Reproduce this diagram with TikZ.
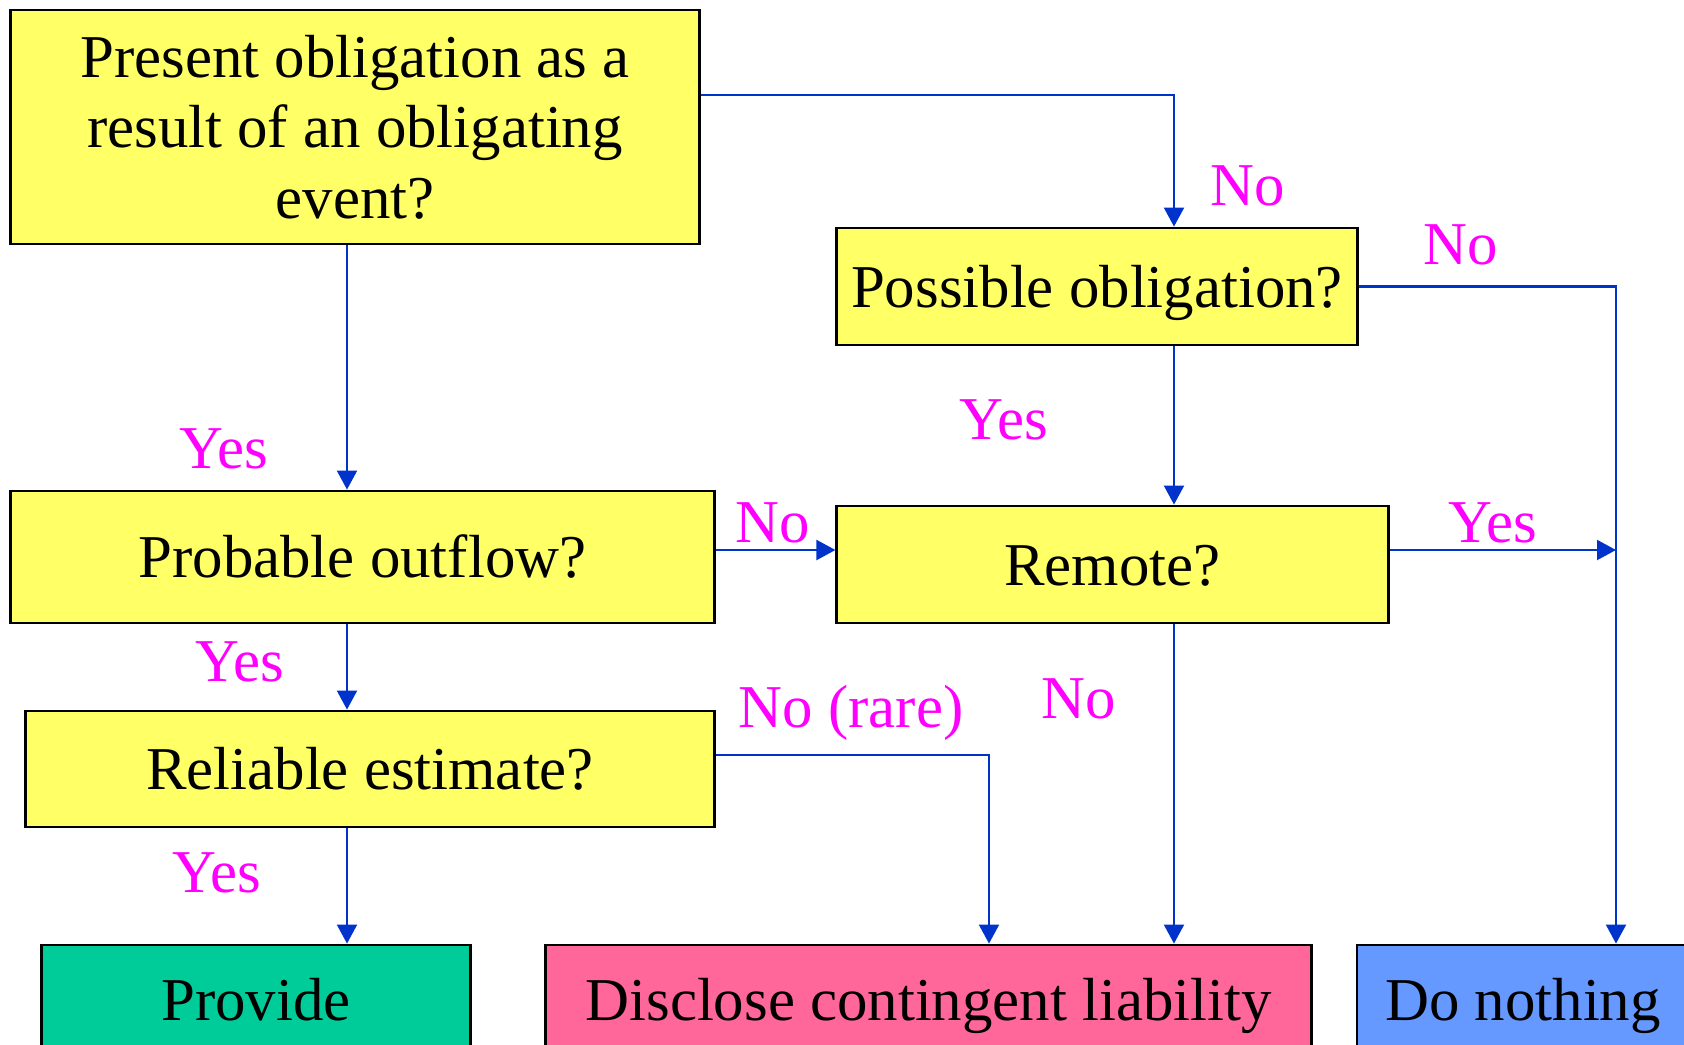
\documentclass[tikz,border=0pt]{standalone}
\usepackage{fontspec}
\setmainfont{Liberation Serif}
\usetikzlibrary{arrows.meta,positioning}

\definecolor{qyellow}{HTML}{FFFF66}
\definecolor{provgreen}{HTML}{00CC99}
\definecolor{discpink}{HTML}{FF6699}
\definecolor{nothblue}{HTML}{6699FF}
\definecolor{linkblue}{HTML}{0033CC}
\definecolor{ansmag}{HTML}{FF00FF}

\begin{document}
\begin{tikzpicture}[x=0.01cm,y=-0.01cm,
  question/.style={rectangle,draw=black,line width=0.8pt,fill=qyellow,
                   font=\fontsize{17.3}{20}\selectfont,align=center,inner sep=0pt},
  oneline/.style={question,text height=12.9pt,text depth=1.2pt},
  outcome/.style={oneline,minimum height=1.10cm},
  link/.style={linkblue,line width=0.6pt,-{Triangle[length=0.19cm,width=0.2cm]}},
  answer/.style={ansmag,font=\fontsize{17.3}{20}\selectfont,inner sep=0pt}]

\useasboundingbox (0,0) rectangle (1684,1045);
\clip (0,0) rectangle (1684,1045);

%% ---------- questions ----------
\node[question,minimum width=6.88cm,minimum height=2.34cm](A) at (355,127)
  {Present obligation as a\\result of an obligating\\event?};
\node[oneline,minimum width=5.20cm,minimum height=1.17cm](B) at (1097,286.5)
  {Possible obligation?};
\node[oneline,minimum width=7.03cm,minimum height=1.32cm](C) at (362.5,557)
  {Probable outflow?};
\node[oneline,minimum width=5.51cm,minimum height=1.17cm](D) at (1112.5,564.5)
  {Remote?};
\node[oneline,minimum width=6.88cm,minimum height=1.16cm](E) at (370,769)
  {Reliable estimate?};

%% ---------- outcomes (run off the page) ----------
\node[outcome,fill=provgreen,minimum width=4.28cm](F) at (256,1000){Provide};
\node[outcome,fill=discpink,minimum width=7.65cm](G) at (928.5,1000){Disclose contingent liability};
\node[outcome,fill=nothblue,minimum width=3.32cm](H) at (1523,1000){Do nothing};

% Columns and rows the connectors run along
\coordinate (leftcol) at (347,0);
\coordinate (midcol) at (1174,0);
\coordinate (rarecol) at (989,0);
\coordinate (rightcol) at (1616,0);
\coordinate (rowA) at (0,95);
\coordinate (rowCD) at (0,550);
\coordinate (rowE) at (0,755);

% Connectors
\draw[link] (A.east |- rowA) -| (midcol |- B.north);
\draw[link] (leftcol |- A.south) -- (leftcol |- C.north);
\draw[link] (midcol |- B.south) -- (midcol |- D.north);
\draw[link] (B.east) -| (rightcol |- H.north);
\draw[link] (C.east |- rowCD) -- (D.west |- rowCD);
\draw[link] (D.east |- rowCD) -- (rightcol |- rowCD);
\draw[link] (leftcol |- C.south) -- (leftcol |- E.north);
\draw[link] (E.east |- rowE) -| (rarecol |- G.north);
\draw[link] (midcol |- D.south) -- (midcol |- G.north);
\draw[link] (leftcol |- E.south) -- (leftcol |- F.north);

% Answers
\node[answer](noA) at (1248,186){No};
\node[answer](yesA) at (224,449){Yes};
\node[answer](yesB) at (1004,420){Yes};
\node[answer](noB) at (1461,245){No};
\node[answer](noC) at (773,523){No};
\node[answer](yesD) at (1493,523){Yes};
\node[answer](yesC) at (240,662){Yes};
\node[answer](noE) at (851,713){No (rare)};
\node[answer](noD) at (1079,699){No};
\node[answer](yesE) at (217,873){Yes};

\end{tikzpicture}
\end{document}
